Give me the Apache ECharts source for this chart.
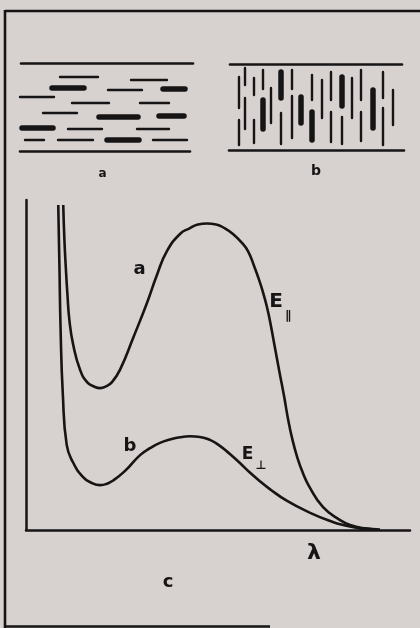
<!DOCTYPE html>
<html><head><meta charset="utf-8">
<script src="https://cdn.jsdelivr.net/npm/echarts@6/dist/echarts.min.js"></script>
<style>html,body{margin:0;padding:0;background:#d7d1d0;}#c{width:420px;height:628px;}</style>
</head><body><div id="c"></div>
<script>
// ---- Panel c: extinction curves, x = wavelength (arb. units 0-100), y = extinction (arb. 0-100)
const curveParallel = [ // E∥ (curve a)
  [9.7,98.5],[10.0,88.0],[10.4,78.8],[10.8,71.2],[11.3,63.6],[12.3,56.1],[14.1,48.5],[15.9,44.8],
  [17.7,43.5],[19.3,43.0],[20.8,43.5],[22.4,44.8],[24.5,48.6],[27.9,58.2],[31.5,68.8],[34.1,77.3],
  [36.7,84.5],[40.1,89.7],[42.7,91.5],[44.8,92.6],[47.1,92.9],[49.5,92.6],[51.8,91.4],[53.9,89.7],
  [56.0,87.3],[57.8,84.5],[59.4,80.0],[60.7,75.8],[62.0,70.9],[63.15,65.5],[64.6,56.7],[66.0,47.9],
  [67.2,40.6],[68.2,33.9],[69.4,27.3],[70.7,21.8],[72.1,17.3],[73.7,13.3],[77.3,7.0],[81.8,3.0],
  [84.4,1.5],[88.3,0.5],[92.2,0.15]
];
const curvePerp = [ // E⊥ (curve b)
  [8.4,98.5],[8.7,80.3],[9.0,61.2],[9.6,40.9],[10.6,25.8],[12.2,20.6],[14.8,16.1],[16.9,14.4],
  [19.3,13.6],[20.8,13.9],[22.7,15.0],[25.8,17.9],[29.7,22.7],[32.3,24.8],[34.9,26.4],[37.5,27.4],
  [40.1,28.1],[42.7,28.4],[45.3,28.2],[47.9,27.3],[50.5,25.5],[53.1,23.0],[55.7,20.3],[58.3,17.4],
  [60.9,14.8],[63.5,12.4],[68.0,8.8],[74.0,5.2],[79.9,2.4],[82.6,1.5],[87.0,0.5],[91.4,0.15]
];
// ---- Panels a, b: sketch of molecule orientation (sketch units)
// horizontal segments [x1, x2, y]
const boundaryH = [[6,178,96.7],[5,175,9],[215,387,96],[214,389,10]];
const thinH = [[45,83,83],[116,152,80],[93,127,70],[5,39,63],[57,94,57],[125,154,57],[28,62,47],
  [53,87,31],[122,154,31],[10,29,20],[43,78,20],[138,172,20]];
const thickH = [[37,69,72],[148,170,71],[84,123,43],[144,169,44],[7,38,32],[92,124,20]];
// vertical segments [x, y1, y2]
const thinV = [[224,83,52],[224,40,15],[230,92,75],[230,62,31],[239,82,65],[239,40,17],[248,90,71],
  [256,72,37],[266,47,16],[277,90,71],[277,64,22],[297,85,60],[307,80,42],[316,88,60],[316,48,18],
  [327,43,16],[337,82,42],[346,90,60],[346,48,19],[368,88,62],[368,52,15],[378,70,35]];
const thickV = [[248,60,31],[266,88,62],[286,63,37],[297,48,20],[327,83,54],[358,70,32]];

const INK = '#161414';
const hSeg = a => a.map(d => ({coords: [[d[0], d[2]], [d[1], d[2]]]}));
const vSeg = a => a.map(d => ({coords: [[d[0], d[1]], [d[0], d[2]]]}));
const segSeries = (data, w) => ({
  type: 'lines', coordinateSystem: 'cartesian2d', xAxisIndex: 1, yAxisIndex: 1,
  polyline: false, silent: true, data: data,
  lineStyle: {color: INK, width: w, opacity: 1, cap: 'round', curveness: 0}
});
const FONT = 'DejaVu Sans';
const txt = (s, x, y, size, weight) => ({
  type: 'text', x: x, y: y, silent: true,
  style: {text: s, fill: INK, font: (weight || 'bold') + ' ' + size + 'px "' + FONT + '"',
          textAlign: 'center', textVerticalAlign: 'middle'}
});
const ln = (x1, y1, x2, y2, w) => ({type: 'line', silent: true,
  shape: {x1: x1, y1: y1, x2: x2, y2: y2}, style: {stroke: INK, lineWidth: w}});

const chart = echarts.init(document.getElementById('c'), null, {renderer: 'canvas'});
chart.setOption({
  backgroundColor: '#d7d1d0',
  animation: false,
  grid: [
    {left: 26, top: 200, width: 384, height: 330},
    {left: 15, top: 55, width: 397, height: 105}
  ],
  xAxis: [
    {type: 'value', min: 0, max: 100, gridIndex: 0, splitLine: {show: false},
     axisTick: {show: false}, axisLabel: {show: false},
     axisLine: {show: true, onZero: false, lineStyle: {color: INK, width: 2.5}}},
    {type: 'value', min: 0, max: 397, gridIndex: 1, show: false}
  ],
  yAxis: [
    {type: 'value', min: 0, max: 100, gridIndex: 0, splitLine: {show: false},
     axisTick: {show: false}, axisLabel: {show: false},
     axisLine: {show: true, onZero: false, lineStyle: {color: INK, width: 2.5}}},
    {type: 'value', min: 0, max: 105, gridIndex: 1, show: false}
  ],
  series: [
    {type: 'line', data: curveParallel, smooth: 0.5, symbol: 'none', silent: true,
     lineStyle: {color: INK, width: 2.6}},
    {type: 'line', data: curvePerp, smooth: 0.5, symbol: 'none', silent: true,
     lineStyle: {color: INK, width: 2.6}},
    segSeries(hSeg(boundaryH), 2.6),
    segSeries(hSeg(thinH), 2.4),
    segSeries(hSeg(thickH), 5.5),
    segSeries(vSeg(thinV), 2.4),
    segSeries(vSeg(thickV), 5.5)
  ],
  graphic: [
    ln(5, 11, 420, 11, 2.6),
    ln(5, 10, 5, 628, 2.6),
    ln(5, 626.5, 270, 626.5, 2.5),
    txt('a', 102.5, 174, 12),
    txt('b', 316, 171, 14),
    txt('a', 139.5, 269, 18),
    txt('b', 130, 446, 18),
    txt('E', 276, 302, 20),
    txt('\u2225', 288, 316, 12),
    txt('E', 247.5, 455, 17),
    txt('\u22A5', 261, 466, 12),
    txt('\u03BB', 314, 553, 22),
    txt('c', 168, 582, 18)
  ]
});
</script></body></html>
